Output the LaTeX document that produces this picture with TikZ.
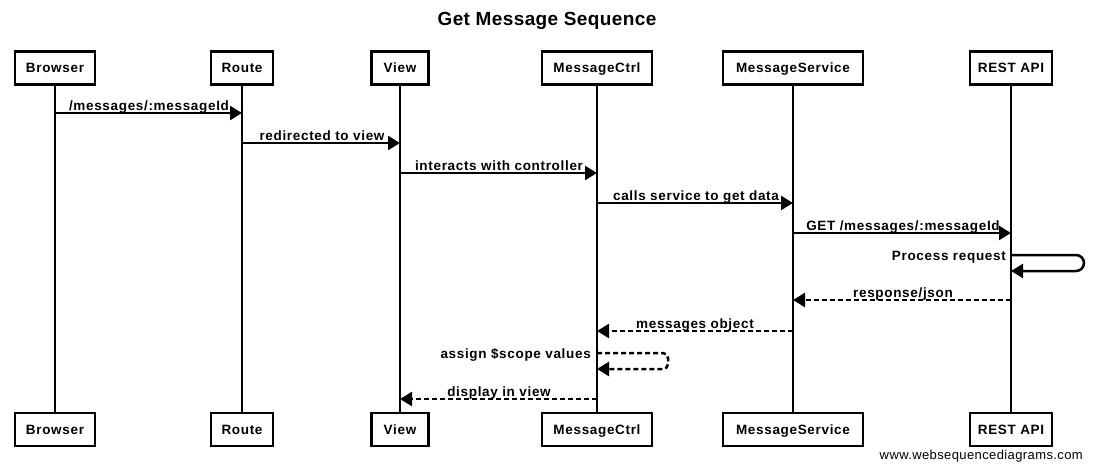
\documentclass[tikz,border=0pt]{standalone}
\usepackage{fontspec}
\setmainfont{Liberation Sans}
\newfontfamily\wsd[LetterSpace=5]{Liberation Sans}
\newfontfamily\wsdmark[LetterSpace=3]{Liberation Sans}
\newfontfamily\wsdtitle[LetterSpace=2]{Liberation Sans}
\usetikzlibrary{arrows.meta}
\tikzset{
  actor/.style={draw, line width=2.5pt, fill=white, minimum height=33pt, inner sep=0pt,
    text height=9.5pt, text depth=0pt,
    font=\wsd\bfseries\fontsize{13.5}{15}\selectfont},
  life/.style={line width=2.5pt},
  msg/.style={line width=2.5pt, -{Triangle[length=12pt,width=14pt]}},
  ret/.style={msg, dash pattern=on 5pt off 3pt},
  lbl/.style={anchor=base, inner sep=0pt, font=\wsd\bfseries\fontsize{13.5}{15}\selectfont},
}
\begin{document}
\begin{tikzpicture}[x=1pt,y=-1pt]
\useasboundingbox[fill=white] (0,0) rectangle (1093,469);
\node[font=\wsdtitle\bfseries\fontsize{19}{22}\selectfont] (title) at (547,21) {Get Message Sequence};
% top boxes
\node[actor, minimum width=80pt] (browser) at (55,68) {Browser};
\node[actor, minimum width=62pt] (route) at (242,68) {Route};
\node[actor, minimum width=57pt] (view) at (400,68) {View};
\node[actor, minimum width=110pt] (ctrl) at (597,68) {MessageCtrl};
\node[actor, minimum width=140pt] (svc) at (793,68) {MessageService};
\node[actor, minimum width=82pt] (rest) at (1011,68) {REST API};
% bottom boxes
\node[actor, minimum width=80pt] (browserB) at (55,429.5) {Browser};
\node[actor, minimum width=62pt] (routeB) at (242,429.5) {Route};
\node[actor, minimum width=57pt] (viewB) at (400,429.5) {View};
\node[actor, minimum width=110pt] (ctrlB) at (597,429.5) {MessageCtrl};
\node[actor, minimum width=140pt] (svcB) at (793,429.5) {MessageService};
\node[actor, minimum width=82pt] (restB) at (1011,429.5) {REST API};
% lifelines
\draw[life] (browser) -- (browserB);
\draw[life] (route) -- (routeB);
\draw[life] (view) -- (viewB);
\draw[life] (ctrl) -- (ctrlB);
\draw[life] (svc) -- (svcB);
\draw[life] (rest) -- (restB);
% messages
\draw[msg] (browser |- 0,113) -- (route |- 0,113);
\node[lbl] (l1) at (149,110) {/messages/:messageId};
\draw[msg] (route |- 0,143) -- (view |- 0,143);
\node[lbl] (l2) at (322,140) {redirected to view};
\draw[msg] (view |- 0,173) -- (ctrl |- 0,173);
\node[lbl] (l3) at (499,170) {interacts with controller};
\draw[msg] (ctrl |- 0,203) -- (svc |- 0,203);
\node[lbl] (l4) at (696,200) {calls service to get data};
\draw[msg] (svc |- 0,233) -- (rest |- 0,233);
\node[lbl] (l5) at (903,230) {GET /messages/:messageId};
% self: process request
\draw[msg, rounded corners=8pt] (rest |- 0,255) -- (1084,255) -- (1084,271) -- (rest |- 0,271);
\node[lbl, anchor=base east] (l6) at (1006,260) {Process request};
% returns
\draw[ret] (rest |- 0,300) -- (svc |- 0,300);
\node[lbl] (l7) at (903,297) {response/json};
\draw[ret] (svc |- 0,331) -- (ctrl |- 0,331);
\node[lbl] (l8) at (695,328) {messages object};
\draw[ret, rounded corners=5pt] (ctrl |- 0,353) -- (668,353) -- (668,369) -- (ctrl |- 0,369);
\node[lbl, anchor=base east] (l9) at (591,358) {assign \$scope values};
\draw[ret] (ctrl |- 0,399) -- (view |- 0,399);
\node[lbl] (l10) at (499,396) {display in view};
% watermark
\node[anchor=base east, inner sep=0pt, font=\wsdmark\fontsize{13}{15}\selectfont] (mark) at (1083,459) {www.websequencediagrams.com};
\end{tikzpicture}
\end{document}
